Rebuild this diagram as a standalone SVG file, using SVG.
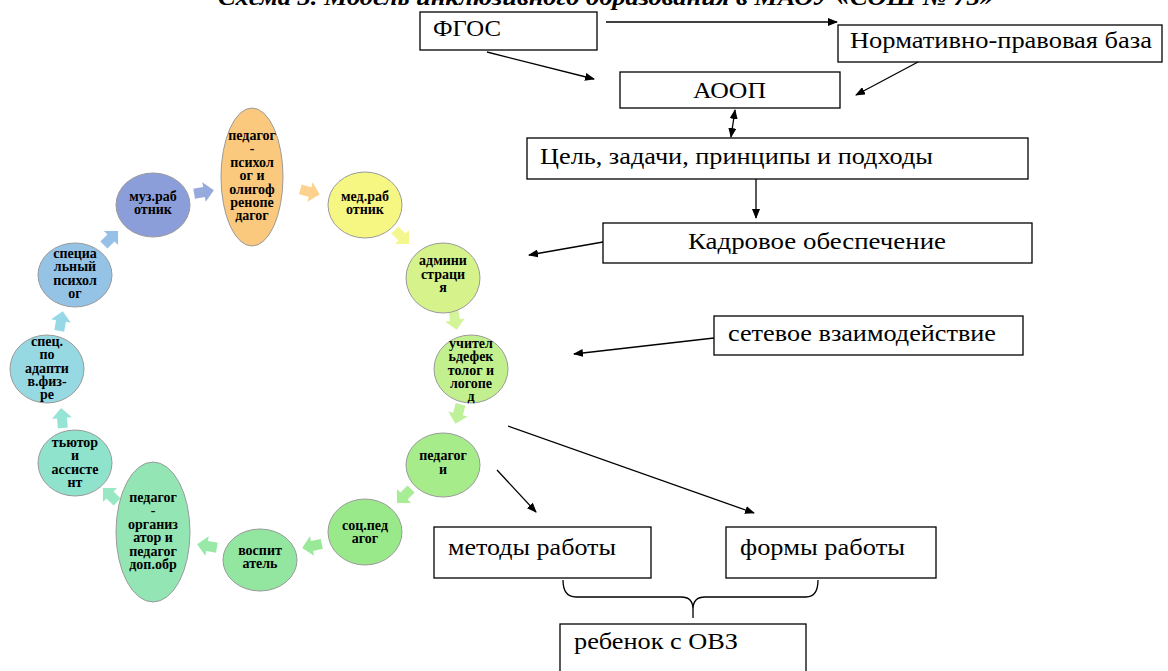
<svg xmlns="http://www.w3.org/2000/svg" width="1168" height="671" viewBox="0 0 1168 671">
<defs>
<marker id="ah" markerWidth="10" markerHeight="8" refX="9" refY="4" orient="auto-start-reverse" markerUnits="userSpaceOnUse">
<path d="M0,0 L10,4 L0,8 z" fill="#000"/>
</marker>
<polygon id="ca" points="-10,-5 0,-5 0,-10 10,0 0,10 0,5 -10,5"/>
</defs>
<style>
.box{fill:#fff;stroke:#000;stroke-width:1.3}
.bt{font-family:"Liberation Serif","DejaVu Serif","Times New Roman",serif;font-size:24px;fill:#000}
.con{stroke:#000;stroke-width:1.3;fill:none}
.nd{stroke:#9a9a9a;stroke-width:1}
.nt{font-family:"Liberation Serif","DejaVu Serif","Times New Roman",serif;font-size:14px;font-weight:bold;fill:#000;text-anchor:middle}
.title{font-family:"Liberation Serif","DejaVu Serif","Times New Roman",serif;font-size:24px;font-weight:bold;font-style:italic;fill:#000}
</style>
<rect width="1168" height="671" fill="#fff"/>
<text class="title" x="218" y="5" textLength="775" lengthAdjust="spacingAndGlyphs">Схема 3. Модель инклюзивного образования в МАОУ «СОШ № 73»</text>

<g id="fgos"><rect class="box" x="420" y="12" width="177" height="38"/><text class="bt" x="433" y="36" textLength="68" lengthAdjust="spacingAndGlyphs">ФГОС</text></g>
<g id="norm"><rect class="box" x="838" y="25" width="324" height="37"/><text class="bt" x="850" y="48" textLength="302" lengthAdjust="spacingAndGlyphs">Нормативно-правовая база</text></g>
<g id="aoop"><rect class="box" x="620" y="72" width="220" height="36"/><text class="bt" x="693" y="98" textLength="73" lengthAdjust="spacingAndGlyphs">АООП</text></g>
<g id="goal"><rect class="box" x="527" y="138" width="501" height="41"/><text class="bt" x="540" y="164" textLength="393" lengthAdjust="spacingAndGlyphs">Цель, задачи, принципы и подходы</text></g>
<g id="staff"><rect class="box" x="603" y="223" width="429" height="40"/><text class="bt" x="688" y="249" textLength="258" lengthAdjust="spacingAndGlyphs">Кадровое обеспечение</text></g>
<g id="net"><rect class="box" x="714" y="316" width="309" height="39"/><text class="bt" x="728" y="341" textLength="268" lengthAdjust="spacingAndGlyphs">сетевое взаимодействие</text></g>
<g id="methods"><rect class="box" x="434" y="527" width="217" height="51"/><text class="bt" x="448" y="555" textLength="168" lengthAdjust="spacingAndGlyphs">методы работы</text></g>
<g id="forms"><rect class="box" x="726" y="527" width="210" height="51"/><text class="bt" x="740" y="555" textLength="165" lengthAdjust="spacingAndGlyphs">формы работы</text></g>
<g id="child"><rect class="box" x="560" y="624" width="246" height="60"/><text class="bt" x="574" y="649" textLength="164" lengthAdjust="spacingAndGlyphs">ребенок с ОВЗ</text></g>

<g id="connectors">
<line class="con" x1="606" y1="22" x2="837" y2="22" marker-end="url(#ah)"/>
<line class="con" x1="487" y1="52" x2="594" y2="79" marker-end="url(#ah)"/>
<line class="con" x1="918" y1="62" x2="856" y2="95" marker-end="url(#ah)"/>
<line class="con" x1="735" y1="110" x2="731" y2="137" marker-start="url(#ah)" marker-end="url(#ah)"/>
<line class="con" x1="756" y1="179" x2="756" y2="218" marker-end="url(#ah)"/>
<line class="con" x1="603" y1="242" x2="529" y2="255" marker-end="url(#ah)"/>
<line class="con" x1="714" y1="338" x2="574" y2="354" marker-end="url(#ah)"/>
<line class="con" x1="508" y1="426" x2="754" y2="513" marker-end="url(#ah)"/>
<line class="con" x1="497" y1="470" x2="536" y2="512" marker-end="url(#ah)"/>
<path class="con" d="M563,580 Q563,597 576,597 L681,597 Q693,597 693,609 L693,618 M693,609 Q693,597 705,597 L806,597 Q818,597 818,580"/>
<use href="#ca" transform="translate(204,192) rotate(-10)" fill="#97aade"/>
<use href="#ca" transform="translate(310,192) rotate(15)" fill="#fcd28e"/>
<use href="#ca" transform="translate(402,237) rotate(45)" fill="#f4f78e"/>
<use href="#ca" transform="translate(455,320) rotate(80)" fill="#d4f49a"/>
<use href="#ca" transform="translate(458,414) rotate(105)" fill="#bff09a"/>
<use href="#ca" transform="translate(404,496) rotate(135)" fill="#a8ec96"/>
<use href="#ca" transform="translate(312,546) rotate(168)" fill="#9ae998"/>
<use href="#ca" transform="translate(207,546) rotate(190)" fill="#98e8a8"/>
<use href="#ca" transform="translate(110,495) rotate(225)" fill="#98e8c4"/>
<use href="#ca" transform="translate(62,418) rotate(265)" fill="#96e4d6"/>
<use href="#ca" transform="translate(61,321) rotate(280)" fill="#96d8e6"/>
<use href="#ca" transform="translate(111,238) rotate(315)" fill="#96c0e6"/>
</g>

<g id="n-pedpsy"><ellipse class="nd" cx="252" cy="177" rx="31" ry="69" fill="#fbc97d"/>
<text class="nt"><tspan x="252" y="140">педагог</tspan><tspan x="252" y="153">-</tspan><tspan x="252" y="167">психол</tspan><tspan x="252" y="180">ог и</tspan><tspan x="252" y="194">олигоф</tspan><tspan x="252" y="207">ренопе</tspan><tspan x="252" y="220">дагог</tspan></text></g>
<g id="n-med"><ellipse class="nd" cx="365" cy="205" rx="37" ry="33" fill="#f5f782"/>
<text class="nt"><tspan x="365" y="201">мед.раб</tspan><tspan x="365" y="214">отник</tspan></text></g>
<g id="n-admin"><ellipse class="nd" cx="443" cy="278" rx="37" ry="35" fill="#d6f28a"/>
<text class="nt"><tspan x="443" y="265">админи</tspan><tspan x="443" y="279">страци</tspan><tspan x="443" y="292">я</tspan></text></g>
<g id="n-uchit"><ellipse class="nd" cx="471" cy="369" rx="37" ry="34" fill="#c3f08f"/>
<text class="nt"><tspan x="471" y="348">учител</tspan><tspan x="471" y="361">ьдефек</tspan><tspan x="471" y="375">толог и</tspan><tspan x="471" y="388">логопе</tspan><tspan x="471" y="401">д</tspan></text></g>
<g id="n-pedagogi"><ellipse class="nd" cx="443" cy="465" rx="37" ry="32" fill="#a6ec8a"/>
<text class="nt"><tspan x="443" y="460">педагог</tspan><tspan x="443" y="474">и</tspan></text></g>
<g id="n-soc"><ellipse class="nd" cx="365" cy="532" rx="37" ry="33" fill="#99e98a"/>
<text class="nt"><tspan x="365" y="530">соц.пед</tspan><tspan x="365" y="543">агог</tspan></text></g>
<g id="n-vosp"><ellipse class="nd" cx="260" cy="560" rx="37" ry="31" fill="#93e6a0"/>
<text class="nt"><tspan x="260" y="555">воспит</tspan><tspan x="260" y="568">атель</tspan></text></g>
<g id="n-org"><ellipse class="nd" cx="153" cy="532" rx="37" ry="70" fill="#93e6b4"/>
<text class="nt"><tspan x="153" y="502">педагог</tspan><tspan x="153" y="515">-</tspan><tspan x="153" y="529">организ</tspan><tspan x="153" y="542">атор и</tspan><tspan x="153" y="556">педагог</tspan><tspan x="153" y="569">доп.обр</tspan></text></g>
<g id="n-tutor"><ellipse class="nd" cx="75" cy="463" rx="37" ry="33" fill="#8fe3cc"/>
<text class="nt"><tspan x="75" y="447">тьютор</tspan><tspan x="75" y="460">и</tspan><tspan x="75" y="474">ассисте</tspan><tspan x="75" y="487">нт</tspan></text></g>
<g id="n-adapt"><ellipse class="nd" cx="47" cy="369" rx="37" ry="34" fill="#96d9e2"/>
<text class="nt"><tspan x="47" y="346">спец.</tspan><tspan x="47" y="359">по</tspan><tspan x="47" y="373">адапти</tspan><tspan x="47" y="386">в.физ-</tspan><tspan x="47" y="399">ре</tspan></text></g>
<g id="n-specpsy"><ellipse class="nd" cx="75" cy="275" rx="37" ry="32" fill="#94c3e6"/>
<text class="nt"><tspan x="75" y="258">специа</tspan><tspan x="75" y="271">льный</tspan><tspan x="75" y="285">психол</tspan><tspan x="75" y="298">ог</tspan></text></g>
<g id="n-muz"><ellipse class="nd" cx="153" cy="205" rx="37" ry="32" fill="#8c9ed9"/>
<text class="nt"><tspan x="153" y="201">муз.раб</tspan><tspan x="153" y="214">отник</tspan></text></g>
</svg>
